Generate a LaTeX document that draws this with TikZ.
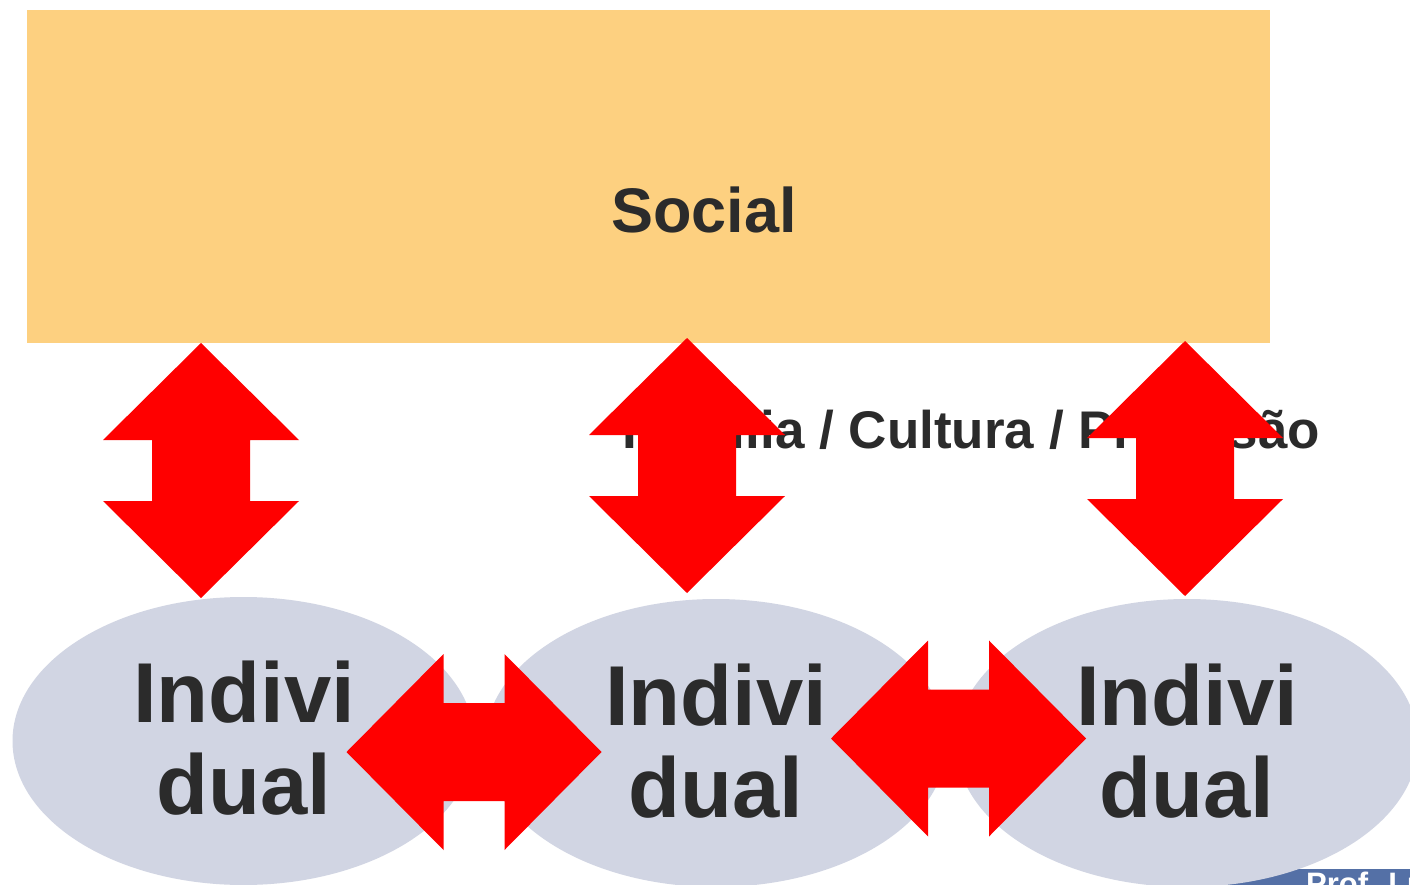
\documentclass[tikz,border=0pt]{standalone}
\usepackage{fontspec}
\setmainfont{Liberation Sans}
\definecolor{socialfill}{HTML}{FDD080}
\definecolor{indfill}{HTML}{D1D5E3}
\definecolor{arrowred}{HTML}{FF0000}
\definecolor{textdark}{HTML}{2B2B2B}
\definecolor{barblue}{HTML}{5470A6}
\tikzset{
  dblarrow/.pic={\fill[arrowred] (0,-127.5) -- (98,-30.5) -- (49,-30.5) -- (49,30.5) -- (98,30.5) -- (0,127.5) -- (-98,30.5) -- (-49,30.5) -- (-49,-30.5) -- (-98,-30.5) -- cycle;},
  indiv/.style={ellipse, fill=indfill, minimum width=462pt, minimum height=288pt, inner sep=0pt},
  indivtext/.style={align=center, text=textdark, inner sep=0pt, font=\bfseries\fontsize{85}{92}\selectfont},
}
\usetikzlibrary{shapes.geometric}
\begin{document}
\begin{tikzpicture}[x=1pt,y=-1pt]
\useasboundingbox (0,0) rectangle (1410,885);
\fill[white] (0,0) rectangle (1410,885);
% social box
\node[fill=socialfill, minimum width=1243pt, minimum height=333pt, inner sep=0pt] (social) at (648.5,176.5) {};
\node[anchor=base, text=textdark, font=\bfseries\fontsize{63}{70}\selectfont] (socialtxt) at (704,233) {Social};
\node[anchor=base, text=textdark, font=\bfseries\fontsize{53}{60}\selectfont] (fcp) at (971,448) {Família / Cultura / Profissão};
% footer bar
\fill[barblue] (1226,869) rectangle (1410,885);
\node[anchor=base west, text=white, inner sep=0pt, font=\bfseries\fontsize{31}{36}\selectfont] (prof) at (1306,894) {Prof. Lu};
% individuals
\node[indiv] (ind1) at (243.5,741) {};
\node[indiv] (ind2) at (716,743) {};
\node[indiv] (ind3) at (1187,743) {};
\node[indivtext] (t1) at (244,738) {Indivi\\dual};
\node[indivtext] (t2) at (716,741) {Indivi\\dual};
\node[indivtext] (t3) at (1187,741) {Indivi\\dual};
% arrows
\pic at (201,470.5) {dblarrow};
\pic at (687,465.5) {dblarrow};
\pic at (1185,468.5) {dblarrow};
\pic[rotate=90] at (474,752) {dblarrow};
\pic[rotate=90] at (958.5,738.5) {dblarrow};
\end{tikzpicture}
\end{document}
